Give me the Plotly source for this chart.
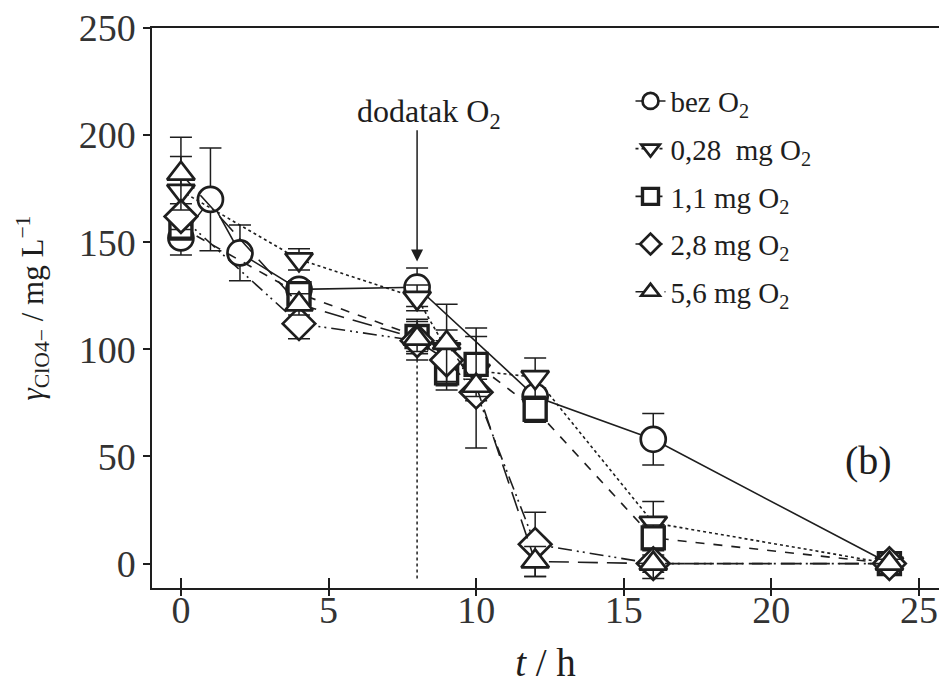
import plotly.graph_objects as go

# Perchlorate concentration vs. time for different O2 doses
t_bez = [0, 1, 2, 4, 8, 12, 16, 24]
y_bez = [152, 170, 145, 128, 129, 78, 58, 0]
e_bez = [8, 24, 13, 4, 9, 4, 12, 2]

t_doses = [0, 4, 8, 9, 10, 12, 16, 24]
y_028 = [174, 142, 124, 100, 90, 87, 19, 0]
e_028 = [16, 5, 6, 4, 4, 9, 10, 2]
y_11 = [157, 126, 106, 89, 93, 72, 12, 0]
e_11 = [6, 5, 8, 6, 17, 6, 6, 2]
y_28 = [162, 112, 104, 95, 80, 9, 0, 0]
e_28 = [6, 7, 9, 14, 26, 15, 4, 2]
y_56 = [182, 121, 105, 103, 83, 1, 0, 0]
e_56 = [17, 5, 6, 18, 5, 7, 7, 2]

o2_addition_t = 8
x_ticks = [0, 5, 10, 15, 20, 25]
y_ticks = [0, 50, 100, 150, 200, 250]

INK = "#1e1e1e"
FONT = "Liberation Serif"

series = [
    ("bez O<sub>2</sub>", t_bez, y_bez, e_bez, "circle", "solid", 25),
    ("0,28  mg O<sub>2</sub>", t_doses, y_028, e_028, "triangle-down", "dot", 24),
    ("1,1 mg O<sub>2</sub>", t_doses, y_11, e_11, "square", "dash", 22),
    ("2,8 mg O<sub>2</sub>", t_doses, y_28, e_28, "diamond", "14px,5px,2px,4px,2px,5px", 25),
    ("5,6 mg O<sub>2</sub>", t_doses, y_56, e_56, "triangle-up", "20px,9px", 24),
]

fig = go.Figure()
for i, (name, t, y, e, sym, dash, size) in enumerate(series):
    fig.add_trace(go.Scatter(
        x=t, y=y, name=name, mode="lines+markers",
        legendgroup=f"g{i}",
        line=dict(color=INK, width=1.6, dash=dash),
        marker=dict(symbol=sym, size=size, color="white",
                    line=dict(color=INK, width=3.4 if sym == "square" else 2.7)),
        error_y=dict(type="data", array=e, visible=True, color=INK,
                     thickness=1.5, width=11),
    ))

# dotted marker of the O2 addition time
fig.add_shape(type="line", xref="x", yref="y",
              x0=o2_addition_t, x1=o2_addition_t, y0=-7, y1=105,
              line=dict(color=INK, width=1.5, dash="dot"), layer="below")

# arrow and label for the O2 addition
fig.add_annotation(x=o2_addition_t, y=141, ax=o2_addition_t, ay=203,
                   axref="x", ayref="y", xref="x", yref="y", text="",
                   showarrow=True, arrowhead=2, arrowsize=1.6,
                   arrowwidth=1.5, arrowcolor=INK)
fig.add_annotation(x=o2_addition_t + 0.42, y=210, xref="x", yref="y",
                   text="dodatak O<sub>2</sub>", showarrow=False,
                   font=dict(family=FONT, size=32, color=INK))
fig.add_annotation(x=23.3, y=48, xref="x", yref="y", text="(b)",
                   showarrow=False, font=dict(family=FONT, size=40, color=INK))

axis_common = dict(showline=True, linecolor=INK, linewidth=1.5,
                   showgrid=False, zeroline=False, tickcolor=INK,
                   tickwidth=1.5)

fig.update_layout(
    width=939, height=684,
    margin=dict(l=152, r=0, t=28, b=96),
    paper_bgcolor="white", plot_bgcolor="white",
    font=dict(family=FONT, color=INK),
    xaxis=dict(range=[-0.98, 25.68], tickvals=x_ticks, ticks="outside",
               ticklen=6, mirror=True, ticklabelstandoff=-18,
               tickfont=dict(family=FONT, size=38, color="#333"),
               title=dict(text="<i>t</i> / h", standoff=26,
                          font=dict(family=FONT, size=39, color=INK)),
               **axis_common),
    xaxis2=dict(overlaying="x", matches="x", anchor="y", side="bottom",
                tickvals=x_ticks, ticks="inside", ticklen=10,
                showticklabels=False, showline=False, showgrid=False,
                zeroline=False, tickcolor=INK, tickwidth=1.5),
    yaxis=dict(range=[-11.4, 250], tickvals=y_ticks, ticks="outside",
               ticklen=7,
               tickfont=dict(family=FONT, size=38, color="#333"),
               title=dict(text="<i>γ</i><sub>ClO4−</sub> / mg L<sup>−1</sup>",
                          standoff=26,
                          font=dict(family=FONT, size=31, color=INK)),
               **axis_common),
    legend=dict(x=0.608, y=0.915, xanchor="left", yanchor="top",
                bgcolor="rgba(0,0,0,0)", tracegroupgap=7,
                font=dict(family=FONT, size=29, color=INK)),
    showlegend=True,
)

# invisible trace to attach the second x axis for the inner ticks
fig.add_trace(go.Scatter(x=[None], y=[None], xaxis="x2", showlegend=False,
                         hoverinfo="skip"))

fig.write_html("out.html")
